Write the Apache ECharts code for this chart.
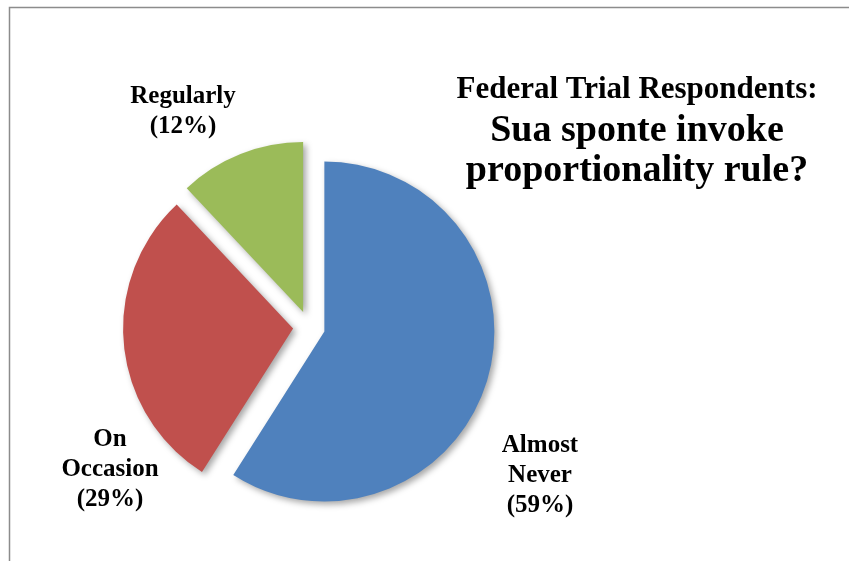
<!DOCTYPE html>
<html>
<head>
<meta charset="utf-8">
<script src="https://cdn.jsdelivr.net/npm/echarts@6/dist/echarts.min.js"></script>
<style>
html,body{margin:0;padding:0;background:#fff;}
#main{width:849px;height:561px;}
</style>
</head>
<body>
<div id="main"></div>
<script>
const categories = ['Almost Never', 'On Occasion', 'Regularly'];
const values = [59, 29, 12];
const colors = ['#4F81BD', '#C0504D', '#9BBB59'];
const labelPos = [[540, 476], [110, 470], [183, 112]];

const chart = echarts.init(document.getElementById('main'));
const fontFamily = '"Liberation Serif", "DejaVu Serif", serif';

const total = values.reduce((a, b) => a + b, 0);
const labelGraphics = categories.map((c, i) => ({
  type: 'text',
  x: labelPos[i][0],
  y: labelPos[i][1],
  silent: true,
  style: {
    text: c.replace(' ', '\n') + '\n(' + Math.round(values[i] / total * 100) + '%)',
    fontFamily: fontFamily,
    fontWeight: 'bold',
    fontSize: 25,
    lineHeight: 30,
    fill: '#000',
    align: 'center',
    verticalAlign: 'middle'
  }
}));

chart.setOption({
  animation: false,
  backgroundColor: '#ffffff',
  title: {
    text: '{a|Federal Trial Respondents:}\n{b|Sua sponte invoke}\n{b|proportionality rule?}',
    left: 632,
    top: 64,
    textAlign: 'center',
    textStyle: {
      rich: {
        a: { fontFamily: fontFamily, fontWeight: 'bold', fontSize: 31, lineHeight: 42, color: '#000', align: 'center' },
        b: { fontFamily: fontFamily, fontWeight: 'bold', fontSize: 38, lineHeight: 40, color: '#000', align: 'center' }
      }
    }
  },
  graphic: [{
    type: 'rect',
    shape: { x: 9.5, y: 7.5, width: 900, height: 600 },
    style: { fill: 'none', stroke: '#8c8c8c', lineWidth: 1.5 },
    silent: true
  }].concat(labelGraphics),
  series: [{
    type: 'pie',
    center: [309, 327],
    radius: 170,
    startAngle: 90,
    clockwise: true,
    selectedMode: 'multiple',
    selectedOffset: 16,
    emphasis: { disabled: true },
    itemStyle: {
      shadowBlur: 6,
      shadowOffsetX: 3,
      shadowOffsetY: 3,
      shadowColor: 'rgba(0,0,0,0.35)'
    },
    label: { show: false },
    labelLine: { show: false },
    data: categories.map((c, i) => ({
      name: c,
      value: values[i],
      selected: true,
      itemStyle: { color: colors[i] }
    }))
  }]
});
</script>
</body>
</html>
